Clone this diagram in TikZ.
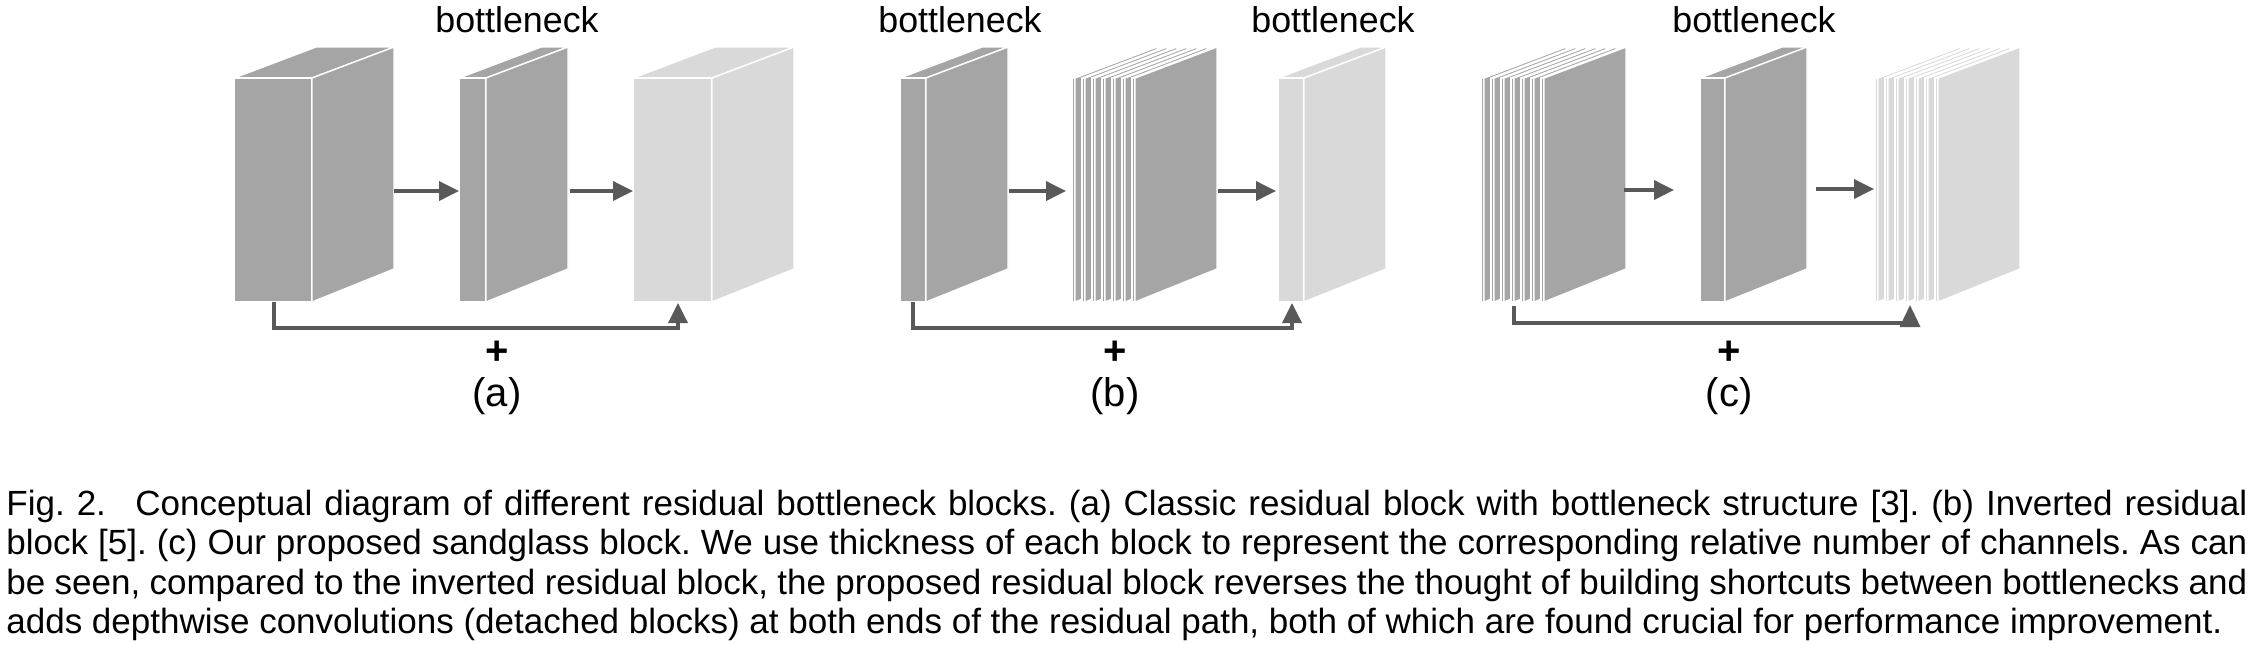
\documentclass[tikz,border=0pt]{standalone}
\usepackage{fontspec}
\setmainfont{Liberation Sans}
\usetikzlibrary{arrows.meta}
\definecolor{blkdark}{RGB}{165,165,165}
\definecolor{blklight}{RGB}{217,217,217}
\definecolor{arrgray}{RGB}{89,89,89}
\tikzset{
  face/.style={fill=#1, draw=white, line width=0.7pt, line join=round},
  flow/.style={draw=arrgray, line width=1.8pt, -{Triangle[length=10pt,width=9.5pt]}},
  skipline/.style={draw=arrgray, line width=1.8pt},
  bigtip/.style={draw=arrgray, line width=1.8pt, -{Triangle[length=11pt,width=10pt]}},
  lbl/.style={inner sep=0pt, anchor=base, font=\fontsize{17.9pt}{20pt}\selectfont},
  sub/.style={inner sep=0pt, font=\fontsize{20pt}{22pt}\selectfont},
  plussign/.style={inner sep=0pt, font=\fontsize{20pt}{22pt}\selectfont\bfseries},
  capline/.style={inner sep=0pt, anchor=base west, font=\fontsize{17.5pt}{20pt}\selectfont\frenchspacing},
}
% prism: #1 = left x of front face, #2 = thickness, #3 = colour
\newcommand\prism[3]{%
  \path[face=#3] (#1,78) -- ++(82,-31) -- ++(#2,0) -- ++(-82,31) -- cycle;
  \path[face=#3] (#1,78) rectangle ++(#2,224);
  \path[face=#3] (#1,78) ++(#2,0) -- ++(82,-31) -- ++(0,222) -- ++(-82,33) -- cycle;
}
\newcommand\sheets[2]{% #1 = left x, #2 = colour
  \foreach \k in {0,...,6}{\prism{#1+10*\k}{3}{#2}}%
}
\begin{document}
\begin{tikzpicture}[x=0.5pt,y=-0.5pt]
\useasboundingbox (0,0) rectangle (2252,644);
% ---------------- (a) ----------------
\prism{234}{78}{blkdark}
\prism{459}{27}{blkdark}
\prism{633}{79}{blklight}
\coordinate (a1out) at (394,191);
\coordinate (a2in) at (459,191);
\coordinate (a2out) at (570,191);
\coordinate (a3in) at (633,191);
\coordinate (a1bot) at (274,302);
\coordinate (a3bot) at (678,303);
\draw[flow] (a1out) -- (a2in);
\draw[flow] (a2out) -- (a3in);
\draw[flow] (a1bot) -- (274,328) -| (a3bot);
\node[lbl] (abn) at (517,32) {bottleneck};
\node[plussign] (aplus) at (497,353) {+};
\node[sub] (alab) at (497,396) {(a)};
% ---------------- (b) ----------------
\prism{900}{26}{blkdark}
\sheets{1072}{blkdark}
\prism{1278}{26}{blklight}
\coordinate (b1out) at (1009,191);
\coordinate (b2in) at (1066,191);
\coordinate (b2out) at (1218,191);
\coordinate (b3in) at (1276,191);
\coordinate (b1bot) at (913,302);
\coordinate (b3bot) at (1292,303);
\draw[flow] (b1out) -- (b2in);
\draw[flow] (b2out) -- (b3in);
\draw[flow] (b1bot) -- (913,328) -| (b3bot);
\node[lbl] (bbn1) at (960,32) {bottleneck};
\node[lbl] (bbn2) at (1333,32) {bottleneck};
\node[plussign] (bplus) at (1115,353) {+};
\node[sub] (blab) at (1115,396) {(b)};
% ---------------- (c) ----------------
\sheets{1481}{blkdark}
\prism{1700}{25}{blkdark}
\sheets{1875}{blklight}
\coordinate (c1out) at (1624,190);
\coordinate (c2in) at (1674,190);
\coordinate (c2out) at (1816,189);
\coordinate (c3in) at (1874,189);
\coordinate (c1bot) at (1514,306);
\coordinate (c3base) at (1910,327);
\coordinate (c3bot) at (1910,305);
\draw[flow] (c1out) -- (c2in);
\draw[flow] (c2out) -- (c3in);
\draw[skipline] (c1bot) |- (1912,323);
\draw[bigtip] (c3base) -- (c3bot);
\node[lbl] (cbn) at (1754,32) {bottleneck};
\node[plussign] (cplus) at (1729,353) {+};
\node[sub] (clab) at (1729,396) {(c)};
% ---------------- caption ----------------
\node[capline] (cap1) at (6,515) {\makebox[1120.5pt][s]{Fig. 2.\enspace\ Conceptual diagram of different residual bottleneck blocks. (a) Classic residual block with bottleneck structure [3]. (b) Inverted residual}};
\node[capline] (cap2) at (6,554) {\makebox[1120.5pt][s]{block [5]. (c) Our proposed sandglass block. We use thickness of each block to represent the corresponding relative number of channels. As can}};
\node[capline] (cap3) at (6,594) {\makebox[1120.5pt][s]{be seen, compared to the inverted residual block, the proposed residual block reverses the thought of building shortcuts between bottlenecks and}};
\node[capline] (cap4) at (6,633) {adds depthwise convolutions (detached blocks) at both ends of the residual path, both of which are found crucial for performance improvement.};
\end{tikzpicture}
\end{document}
